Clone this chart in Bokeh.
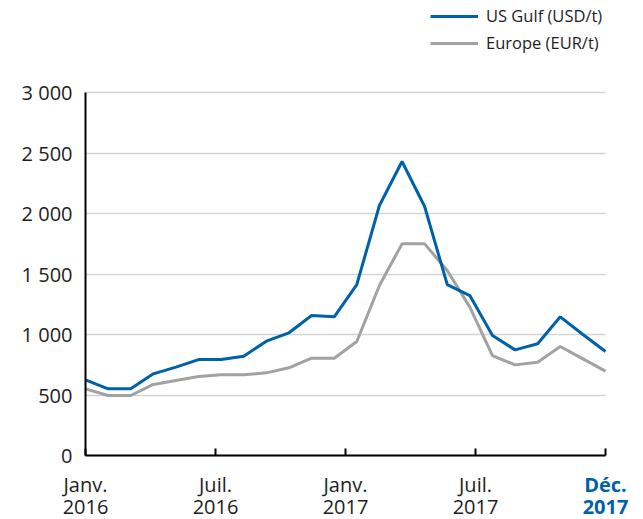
from bokeh.plotting import figure
from bokeh.models import FixedTicker, Legend, LegendItem, LinearAxis
from bokeh.embed import file_html
from bokeh.resources import INLINE
import numpy as np

# Monthly index: Jan 2016 .. Dec 2017
months = list(range(24))
us_gulf = [625, 551, 551, 675, 730, 793, 793, 821, 945, 1014, 1157, 1146,
           1413, 2066, 2430, 2058, 1413, 1322, 992, 873, 923, 1146, 1000, 860]
europe = [551, 496, 496, 587, 620, 653, 667, 667, 683, 725, 804, 804,
          942, 1405, 1749, 1749, 1529, 1226, 826, 749, 771, 901, 799, 697]
y_ticks = [0, 500, 1000, 1500, 2000, 2500, 3000]
y_tick_labels = ["0", "500", "1 000", "1 500", "2 000", "2 500", "3 000"]
x_tick_months = ["Janv.", "Juil.", "Janv.", "Juil.", "Déc."]
x_tick_years = ["2016", "2016", "2017", "2017", "2017"]
series_names = ["US Gulf (USD/t)", "Europe (EUR/t)"]

BLUE = "#0061AB"
GRAY = "#A2A2A2"
TXT = "#1E1E1E"
FONT = "Open Sans"

# page geometry (pixels)
W, H = 643, 519
X0_PX = 85         # x pixel of first month / y axis
X_END_PX = 605     # x pixel of last month
Y0_PX, YTOP_PX = 455, 92   # pixel rows of 0 and of the top tick

px_per_month = (X_END_PX - X0_PX) / (months[-1] - months[0])
px_per_unit = (Y0_PX - YTOP_PX) / (y_ticks[-1] - y_ticks[0])
x_start = months[0] - X0_PX / px_per_month
x_end = months[0] + (W - X0_PX) / px_per_month
y_start = y_ticks[0] - (H - Y0_PX) / px_per_unit
y_end = y_ticks[-1] + YTOP_PX / px_per_unit

x_tick_pos = list(np.linspace(months[0], months[-1], len(x_tick_months)))

p = figure(width=W, height=H, x_range=(x_start, x_end), y_range=(y_start, y_end),
           output_backend="svg", toolbar_location=None,
           min_border_left=0, min_border_right=0, min_border_top=0,
           min_border_bottom=0)
p.title.visible = False
p.outline_line_color = None
p.xgrid.visible = False
p.ygrid.grid_line_color = "#D4D4D4"
p.ygrid.grid_line_width = 1.5
p.ygrid.ticker = FixedTicker(ticks=y_ticks)
try:
    p.ygrid.cross_bounds = (months[0], months[-1])
except Exception:
    pass

ya = p.yaxis[0]
ya.fixed_location = months[0]
ya.ticker = FixedTicker(ticks=y_ticks)
ya.bounds = (y_ticks[0], y_ticks[-1])
ya.major_label_overrides = {t: l for t, l in zip(y_ticks, y_tick_labels)}
ya.major_tick_line_color = None
ya.minor_tick_line_color = None
ya.axis_line_color = "black"
ya.axis_line_width = 2
ya.major_label_standoff = 7
ya.major_label_text_font = FONT
ya.major_label_text_font_size = "20px"
ya.major_label_text_color = TXT

labels = [f"{m}\n{y}" for m, y in zip(x_tick_months, x_tick_years)]

xa = p.xaxis[0]
xa.fixed_location = y_ticks[0]
xa.bounds = (months[0], months[-1])
xa.ticker = FixedTicker(ticks=x_tick_pos)
xa.major_label_overrides = {t: (l if i < len(x_tick_pos) - 1 else "")
                            for i, (t, l) in enumerate(zip(x_tick_pos, labels))}
xa.major_tick_in = 7
xa.major_tick_out = 0
xa.major_tick_line_width = 2
xa.major_tick_line_color = "black"
xa.minor_tick_line_color = None
xa.axis_line_color = "black"
xa.axis_line_width = 2
xa.major_label_standoff = 15
xa.major_label_text_font = FONT
xa.major_label_text_font_size = "20px"
xa.major_label_text_color = TXT
xa.major_label_text_line_height = 0.85

xb = LinearAxis(fixed_location=y_ticks[0], ticker=FixedTicker(ticks=[x_tick_pos[-1]]),
                major_label_overrides={x_tick_pos[-1]: labels[-1]},
                axis_line_color=None, major_tick_line_color=None,
                minor_tick_line_color=None, major_tick_in=0, major_tick_out=0,
                major_label_standoff=15, major_label_text_font=FONT,
                major_label_text_font_size="20px", major_label_text_font_style="bold",
                major_label_text_color=BLUE, major_label_text_line_height=0.85)
p.add_layout(xb, "below")

r2 = p.line(months, europe, line_color=GRAY, line_width=3)
r1 = p.line(months, us_gulf, line_color=BLUE, line_width=3)

legend = Legend(items=[LegendItem(label=series_names[0], renderers=[r1]),
                       LegendItem(label=series_names[1], renderers=[r2])],
                location=(430, H - 54), glyph_width=48, glyph_height=20,
                label_standoff=8, spacing=4, padding=0, margin=0,
                border_line_color=None, background_fill_alpha=0,
                label_text_font=FONT, label_text_font_size="16.5px",
                label_text_color=TXT, label_height=20)
p.add_layout(legend)

open("out.html", "w").write(file_html(p, INLINE))
